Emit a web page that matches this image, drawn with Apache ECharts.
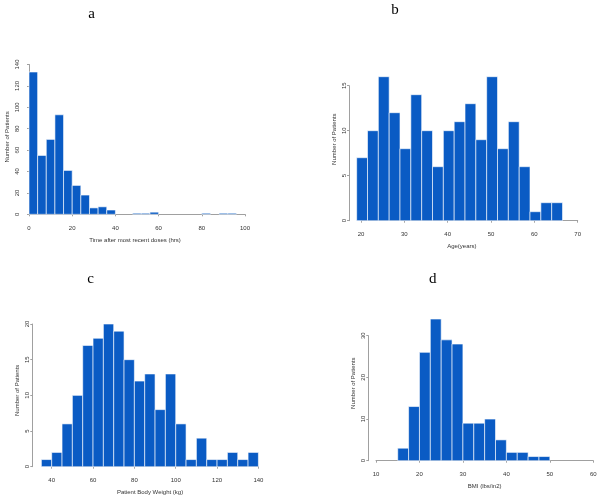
<!DOCTYPE html>
<html>
<head>
<meta charset="utf-8">
<script src="https://cdn.jsdelivr.net/npm/echarts@6/dist/echarts.min.js"></script>
<style>
html,body{margin:0;padding:0;background:#fff;}
#chart{width:601px;height:499px;}
</style>
</head>
<body>
<div id="chart"></div>
<script>
// ---- Data ----
// Panel a: time after most recent doses (hrs), bins of 4 starting at 0
const aBinStart = 0, aBinWidth = 4;
const aCounts = [133, 55, 70, 93, 41, 27, 18, 6, 7, 4, 0, 0, 1, 1, 2, 0, 0, 0, 0, 0, 1, 0, 1, 1];
// Panel b: age (years), bins of 2.5 starting at 19
const bBinStart = 19, bBinWidth = 2.5;
const bCounts = [7, 10, 16, 12, 8, 14, 10, 6, 10, 11, 13, 9, 16, 8, 11, 6, 1, 2, 2];
// Panel c: patient body weight (kg), bins of 5 starting at 35
const cBinStart = 35, cBinWidth = 5;
const cCounts = [1, 2, 6, 10, 17, 18, 20, 19, 15, 12, 13, 8, 13, 6, 1, 4, 1, 1, 2, 1, 2];
// Panel d: BMI (lbs/in2), bins of 2.5 starting at 15
const dBinStart = 15, dBinWidth = 2.5;
const dCounts = [3, 13, 26, 34, 29, 28, 9, 9, 10, 5, 2, 2, 1, 1];

const panelTitles = ['a', 'b', 'c', 'd'];
const xNames = ['Time after most recent doses (hrs)', 'Age(years)', 'Patient Body Weight (kg)', 'BMI (lbs/in2)'];
const yName = 'Number of Patients';
const xRanges = [[0, 100, 20], [20, 70, 10], [40, 140, 20], [10, 60, 10]];
const yRanges = [[0, 140, 20], [0, 15, 5], [0, 20, 5], [0, 30, 10]];

function toBins(start, width, counts) {
  return counts.map((c, i) => [start + i * width, start + (i + 1) * width, c]);
}
const binsData = [
  toBins(aBinStart, aBinWidth, aCounts),
  toBins(bBinStart, bBinWidth, bCounts),
  toBins(cBinStart, cBinWidth, cCounts),
  toBins(dBinStart, dBinWidth, dCounts)
];

// ---- Layout / style ----
const BAR = '#0a5bc4';
const AXIS = '#a0a0a0';
const TXT = '#333333';
const grids = [
  {left: 29, top: 64.5, width: 216, height: 149.8},
  {left: 361, top: 85.7, width: 216.7, height: 135},
  {left: 51.7, top: 324, width: 206.7, height: 142.7},
  {left: 376, top: 335.7, width: 217.3, height: 125}
];
const yOffsets = [6.7, 12, 19.4, 7.7];
const xNamePad = [[0, 4, 0, 0], [0, 15, 0, 0], [0, 10, 0, 0], [0, 0, 0, 0]];
const yNamePad = [[0, 0, 0, 5], [0, 0, 0, 28], [0, 0, 0, 10], [0, 0, 0, 30]];
const titlePos = [[91.7, 7], [395, 2.5], [90.7, 272], [432.7, 272]];

function renderBar(params, api) {
  const count = api.value(2);
  if (!count) return null;
  const p0 = api.coord([api.value(0), count]);
  const p1 = api.coord([api.value(1), 0]);
  return {
    type: 'rect',
    shape: {x: p0[0], y: p0[1], width: p1[0] - p0[0], height: p1[1] - p0[1]},
    style: {fill: BAR, stroke: '#ffffff', lineWidth: 0.6}
  };
}

const option = {
  animation: false,
  backgroundColor: '#ffffff',
  textStyle: {fontFamily: 'Liberation Sans, Arial, sans-serif'},
  title: panelTitles.map((t, i) => ({
    text: t,
    left: titlePos[i][0],
    top: titlePos[i][1],
    textAlign: 'center',
    padding: 0,
    textStyle: {fontFamily: 'Liberation Serif, Times New Roman, serif', fontSize: 15, fontWeight: 'normal', color: '#000'}
  })),
  grid: grids,
  xAxis: xRanges.map((r, i) => ({
    type: 'value',
    gridIndex: i,
    min: r[0], max: r[1], interval: r[2],
    offset: 6,
    name: xNames[i],
    nameLocation: 'middle',
    nameGap: 17,
    nameTextStyle: {fontSize: 6, color: TXT, padding: xNamePad[i]},
    axisLine: {show: true, lineStyle: {color: AXIS, width: 1}},
    axisTick: {show: true, length: 2, lineStyle: {color: AXIS}},
    axisLabel: {fontSize: 6, color: TXT, margin: 5},
    splitLine: {show: false}
  })),
  yAxis: yRanges.map((r, i) => ({
    type: 'value',
    gridIndex: i,
    min: r[0], max: r[1], interval: r[2],
    offset: yOffsets[i],
    name: yName,
    nameLocation: 'middle',
    nameGap: 12,
    nameTextStyle: {fontSize: 6, color: TXT, padding: yNamePad[i]},
    axisLine: {show: true, lineStyle: {color: AXIS, width: 1}},
    axisTick: {show: true, length: 2, lineStyle: {color: AXIS}},
    axisLabel: {fontSize: 6, color: TXT, rotate: 90, margin: 2},
    splitLine: {show: false}
  })),
  series: binsData.map((d, i) => ({
    type: 'custom',
    xAxisIndex: i,
    yAxisIndex: i,
    clip: false,
    renderItem: renderBar,
    encode: {x: [0, 1], y: 2},
    data: d
  }))
};

const chart = echarts.init(document.getElementById('chart'), null, {renderer: 'canvas'});
chart.setOption(option);
</script>
</body>
</html>
